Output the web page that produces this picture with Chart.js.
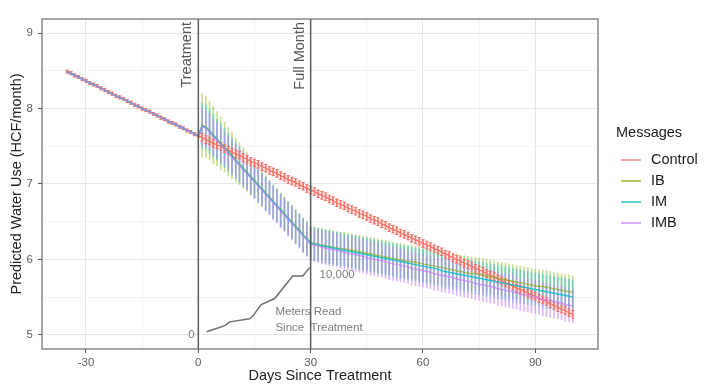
<!DOCTYPE html>
<html><head><meta charset="utf-8">
<script src="https://cdn.jsdelivr.net/npm/chart.js@4.4.1/dist/chart.umd.min.js"></script>
<style>html,body{margin:0;padding:0;background:#fff}</style>
</head><body>
<canvas id="c" width="708" height="386"></canvas>
<script>
// ---------- data ----------
const days = [-35,-34,-33,-32,-31,-30,-29,-28,-27,-26,-25,-24,-23,-22,-21,-20,-19,-18,-17,-16,-15,-14,-13,-12,-11,-10,-9,-8,-7,-6,-5,-4,-3,-2,-1,0,
1,2,3,4,5,6,7,8,9,10,11,12,13,14,15,16,17,18,19,20,21,22,23,24,25,26,27,28,29,30,
31,32,33,34,35,36,37,38,39,40,41,42,43,44,45,46,47,48,49,50,51,52,53,54,55,56,57,58,59,60,
61,62,63,64,65,66,67,68,69,70,71,72,73,74,75,76,77,78,79,80,81,82,83,84,85,86,87,88,89,90,
91,92,93,94,95,96,97,98,99,100];

// days -35..0 (all groups share the pre-treatment prediction)
const sharedPre = [8.49,8.47,8.44,8.42,8.39,8.37,8.34,8.32,8.30,8.27,8.25,8.22,8.20,8.17,8.15,8.13,8.10,8.08,8.05,8.03,8.00,7.98,7.96,7.93,7.91,7.88,7.86,7.83,7.81,7.79,7.76,7.74,7.71,7.69,7.66,7.64];

// predicted values, days 1..100
const controlPost = [7.62,7.59,7.57,7.54,7.52,7.50,7.47,7.45,7.42,7.40,7.38,7.35,7.33,7.30,7.28,7.26,7.23,7.21,7.18,7.16,7.14,7.11,7.09,7.06,7.04,7.02,6.99,6.97,6.94,6.92,
6.90,6.87,6.85,6.83,6.80,6.78,6.75,6.73,6.71,6.68,6.66,6.64,6.61,6.59,6.57,6.54,6.52,6.50,6.47,6.45,
6.42,6.40,6.38,6.35,6.33,6.31,6.28,6.26,6.24,6.21,6.19,6.17,6.14,6.12,6.10,6.07,6.05,6.02,6.00,5.98,
5.95,5.93,5.91,5.88,5.86,5.84,5.81,5.79,5.77,5.74,5.72,5.69,5.67,5.65,5.62,5.60,5.58,5.55,5.53,5.51,
5.48,5.46,5.44,5.41,5.39,5.36,5.34,5.32,5.29,5.27];
const ibPost = [7.78,7.76,7.71,7.65,7.60,7.54,7.49,7.43,7.38,7.32,7.27,7.21,7.16,7.10,7.05,6.99,6.94,6.88,6.83,6.77,6.72,6.66,6.61,6.55,6.50,6.44,6.39,6.33,6.28,6.22,
6.21,6.20,6.19,6.18,6.17,6.16,6.15,6.14,6.14,6.13,6.12,6.11,6.10,6.09,6.08,6.07,6.06,6.05,6.04,6.03,
6.02,6.01,6.00,5.99,5.98,5.97,5.97,5.96,5.95,5.94,5.93,5.92,5.91,5.90,5.89,5.88,5.87,5.86,5.85,5.84,
5.83,5.82,5.81,5.81,5.80,5.79,5.78,5.77,5.76,5.75,5.74,5.73,5.72,5.71,5.70,5.69,5.68,5.67,5.66,5.65,
5.64,5.64,5.63,5.62,5.61,5.60,5.59,5.58,5.57,5.56];
const imPost = [7.77,7.75,7.70,7.64,7.59,7.53,7.48,7.42,7.37,7.31,7.26,7.20,7.15,7.09,7.04,6.98,6.93,6.87,6.82,6.76,6.71,6.65,6.60,6.54,6.49,6.43,6.38,6.32,6.27,6.21,
6.20,6.19,6.18,6.17,6.16,6.15,6.14,6.13,6.12,6.11,6.10,6.09,6.08,6.07,6.06,6.05,6.04,6.03,6.02,6.01,
6.00,5.99,5.98,5.97,5.96,5.95,5.94,5.93,5.92,5.91,5.90,5.89,5.88,5.87,5.85,5.84,5.83,5.82,5.81,5.80,
5.79,5.78,5.77,5.76,5.75,5.74,5.73,5.72,5.71,5.70,5.69,5.68,5.67,5.66,5.65,5.64,5.63,5.62,5.61,5.60,
5.59,5.58,5.57,5.56,5.55,5.54,5.53,5.52,5.51,5.50];
const imbPost = [7.76,7.74,7.69,7.63,7.58,7.52,7.47,7.41,7.36,7.30,7.25,7.19,7.14,7.08,7.03,6.97,6.92,6.86,6.81,6.75,6.70,6.64,6.59,6.53,6.48,6.42,6.37,6.31,6.26,6.20,
6.19,6.18,6.16,6.15,6.14,6.13,6.12,6.11,6.09,6.08,6.07,6.06,6.05,6.04,6.02,6.01,6.00,5.99,5.98,5.97,
5.95,5.94,5.93,5.92,5.91,5.90,5.88,5.87,5.86,5.85,5.84,5.83,5.81,5.80,5.79,5.78,5.77,5.76,5.74,5.73,
5.72,5.71,5.70,5.68,5.67,5.66,5.65,5.64,5.63,5.61,5.60,5.59,5.58,5.57,5.56,5.54,5.53,5.52,5.51,5.50,
5.49,5.47,5.46,5.45,5.44,5.43,5.42,5.40,5.39,5.38];

// error-bar half widths, days 1..100
const controlErrPost = [0.05,0.05,0.05,0.05,0.05,0.05,0.05,0.05,0.05,0.05,0.05,0.05,0.05,0.05,0.05,0.05,0.05,0.05,0.05,0.05,0.05,0.05,0.05,0.05,0.05,0.05,0.05,0.05,0.05,0.05,
0.05,0.05,0.05,0.05,0.05,0.05,0.05,0.05,0.05,0.05,0.05,0.05,0.05,0.05,0.05,0.05,0.05,0.05,0.05,0.05,
0.05,0.05,0.05,0.05,0.05,0.05,0.05,0.05,0.05,0.05,0.05,0.05,0.05,0.05,0.05,0.05,0.05,0.05,0.05,0.05,
0.05,0.05,0.05,0.05,0.05,0.05,0.05,0.05,0.05,0.05,0.05,0.05,0.05,0.05,0.05,0.05,0.05,0.05,0.05,0.05,
0.05,0.05,0.05,0.05,0.05,0.05,0.05,0.05,0.05,0.05];
const ibErrPost = [0.42,0.41,0.39,0.38,0.36,0.35,0.33,0.32,0.31,0.29,0.28,0.27,0.26,0.25,0.24,0.23,0.23,0.23,0.22,0.22,0.22,0.22,0.22,0.22,0.22,0.22,0.22,0.22,0.22,0.22,
0.22,0.22,0.22,0.22,0.22,0.22,0.22,0.22,0.22,0.22,0.22,0.22,0.22,0.22,0.22,0.22,0.22,0.22,0.22,0.22,
0.22,0.22,0.22,0.22,0.22,0.22,0.22,0.22,0.22,0.22,0.22,0.22,0.22,0.22,0.22,0.22,0.22,0.22,0.22,0.22,
0.22,0.22,0.22,0.22,0.22,0.22,0.22,0.22,0.22,0.22,0.22,0.22,0.22,0.22,0.22,0.22,0.22,0.22,0.22,0.22,
0.22,0.22,0.22,0.22,0.22,0.22,0.22,0.22,0.22,0.22];
const imErrPost = [0.30,0.29,0.29,0.28,0.27,0.27,0.26,0.25,0.25,0.24,0.24,0.23,0.22,0.22,0.22,0.22,0.22,0.22,0.22,0.22,0.22,0.22,0.22,0.22,0.22,0.22,0.22,0.22,0.22,0.22,
0.22,0.22,0.22,0.22,0.22,0.22,0.22,0.22,0.22,0.22,0.22,0.22,0.22,0.22,0.22,0.22,0.22,0.22,0.22,0.22,
0.22,0.22,0.22,0.22,0.22,0.22,0.22,0.22,0.22,0.22,0.22,0.22,0.22,0.22,0.22,0.22,0.22,0.22,0.22,0.22,
0.22,0.22,0.22,0.22,0.22,0.22,0.22,0.22,0.22,0.22,0.22,0.22,0.22,0.22,0.22,0.22,0.22,0.22,0.22,0.22,
0.22,0.22,0.22,0.22,0.22,0.22,0.22,0.22,0.22,0.22];
const imbErrPost = [0.25,0.25,0.24,0.24,0.23,0.23,0.22,0.22,0.22,0.22,0.22,0.22,0.22,0.22,0.22,0.22,0.22,0.22,0.22,0.22,0.22,0.22,0.22,0.22,0.22,0.22,0.22,0.22,0.22,0.22,
0.22,0.22,0.22,0.22,0.22,0.22,0.22,0.22,0.22,0.22,0.22,0.22,0.22,0.22,0.22,0.22,0.22,0.22,0.22,0.22,
0.22,0.22,0.22,0.22,0.22,0.22,0.22,0.22,0.22,0.22,0.22,0.22,0.22,0.22,0.22,0.22,0.22,0.22,0.22,0.22,
0.22,0.22,0.22,0.22,0.22,0.22,0.22,0.22,0.22,0.22,0.22,0.22,0.22,0.22,0.22,0.22,0.22,0.22,0.22,0.22,
0.22,0.22,0.22,0.22,0.22,0.22,0.22,0.22,0.22,0.22];
// error-bar half widths, days -35..0 (one per group)
const errHalfPre = [0.02, 0.015, 0.015, 0.015];

const seriesNames = ['Control','IB','IM','IMB'];
const seriesPost = [controlPost, ibPost, imPost, imbPost];
const seriesErrPost = [controlErrPost, ibErrPost, imErrPost, imbErrPost];

// "Meters read since treatment" inset curve (plotted in data coordinates)
const meterDays  = [2.2,7.1,8.4,13.7,14.6,16.8,20.4,25.2,27.9,29.7];
const meterLevel = [5.04,5.12,5.17,5.21,5.25,5.40,5.48,5.78,5.78,5.89];
const meterEndLabels = ['0','10,000'];

const eventDays = [0, 30];
const eventLabels = ['Treatment','Full Month'];

const xMajor = [-30,0,30,60,90];
const xMinor = [-15,15,45,75];
const xTickLabels = ['-30','0','30','60','90'];
const yMajor = [5,6,7,8,9];
const yMinor = [5.5,6.5,7.5,8.5];
const yTickLabels = ['5','6','7','8','9'];

// ---------- styling ----------
const colors = ['#F8766D','#7CAE00','#00BFC4','#C77CFF'];
const X_MIN = -41.75, X_MAX = 106.75, Y_MIN = 4.81, Y_MAX = 9.19;
const FONT = '"Liberation Sans", Arial, Helvetica, sans-serif';
Chart.defaults.font.family = FONT;

function rgba(hex, a){
  const n = parseInt(hex.slice(1),16);
  return `rgba(${(n>>16)&255},${(n>>8)&255},${n&255},${a})`;
}
const nPre = sharedPre.length;
const seriesVals = seriesPost.map(p => sharedPre.concat(p));
const errAt = (s, i) => i < nPre ? errHalfPre[s] : seriesErrPost[s][i - nPre];

const datasets = [];
const barAlpha = [1, 0.42, 0.45, 0.55];
const lineAlpha = [1, 0.6, 0.8, 0.68];
// error bars (floating 1px bars)
[1,2,3,0].forEach((s, k) => {
  datasets.push({
    type:'bar', label:'err '+seriesNames[s],
    data: days.map((d,i) => {
      const e = errAt(s, i), v = seriesVals[s][i];
      return {x:d, y:[v-e, v+e]};
    }),
    backgroundColor: rgba(colors[s], barAlpha[s]),
    borderWidth:0, barThickness:1, grouped:false,
    order: 20 - k
  });
});
// control error bar caps
datasets.push({
  type:'line', label:'caps', showLine:false,
  data: days.flatMap((d,i) => {
    const e = errAt(0, i), v = seriesVals[0][i];
    return [{x:d,y:v-e},{x:d,y:v+e}];
  }),
  pointStyle:'line', pointRadius:1.8, pointBorderWidth:1,
  pointBorderColor: colors[0], pointBackgroundColor: colors[0],
  order: 15
});
// prediction lines
[0,1,2,3].forEach((s,k) => {
  datasets.push({
    type:'line', label: seriesNames[s],
    data: days.map((d,i) => ({x:d, y:seriesVals[s][i]})),
    borderColor: rgba(colors[s], lineAlpha[s]), borderWidth:1.5,
    pointRadius:0, tension:0, fill:false,
    order: 14 - k
  });
});
// event reference lines
eventDays.forEach((d,k) => {
  datasets.push({
    type:'line', label: eventLabels[k],
    data:[{x:d,y:Y_MIN},{x:d,y:Y_MAX}],
    borderColor:'#5a5a5a', borderWidth:1.5, pointRadius:0, order: 5
  });
});
// meters read inset
datasets.push({
  type:'line', label:'Meters Read',
  data: meterDays.map((d,i) => ({x:d, y:meterLevel[i]})),
  borderColor:'#6e6e6e', borderWidth:1.5, pointRadius:0, tension:0, order: 4
});

const annot = {
  id:'annot',
  beforeDatasetsDraw(chart){
    const {ctx, scales:{x,y}} = chart;
    ctx.save();
    ctx.font = '11.5px ' + FONT;
    ctx.fillStyle = '#7c7c7c';
    ctx.textBaseline = 'middle';
    const n = meterDays.length - 1;
    ctx.textAlign = 'right';
    ctx.fillText(meterEndLabels[0], x.getPixelForValue(meterDays[0]) - 12, y.getPixelForValue(meterLevel[0]) + 3);
    ctx.textAlign = 'left';
    ctx.fillText(meterEndLabels[1], x.getPixelForValue(meterDays[n]) + 10, y.getPixelForValue(meterLevel[n]) + 7);
    ctx.fillText('Meters Read', x.getPixelForValue(20.6), y.getPixelForValue(5.30));
    ctx.fillText('Since  Treatment', x.getPixelForValue(20.6), y.getPixelForValue(5.09));
    ctx.restore();
  },
  afterDatasetsDraw(chart){
    const {ctx, chartArea:a, scales:{x}} = chart;
    ctx.save();
    // panel border
    ctx.strokeStyle = '#6a6a6a'; ctx.lineWidth = 1.2;
    ctx.strokeRect(a.left, a.top, a.right - a.left, a.bottom - a.top);
    // event labels
    ctx.font = '14.5px ' + FONT;
    ctx.fillStyle = '#555';
    ctx.textAlign = 'right'; ctx.textBaseline = 'middle';
    eventDays.forEach((d,k) => {
      ctx.save();
      ctx.translate(x.getPixelForValue(d) - 11, a.top + 3);
      ctx.rotate(-Math.PI/2);
      ctx.fillText(eventLabels[k], 0, 0);
      ctx.restore();
    });
    // legend
    ctx.textAlign = 'left';
    ctx.fillStyle = '#1a1a1a';
    ctx.font = '14.5px ' + FONT;
    ctx.fillText('Messages', 616, 133);
    seriesNames.forEach((nm,k) => {
      const yy = 160 + k*21;
      ctx.strokeStyle = rgba(colors[k], 0.85); ctx.lineWidth = 1.5;
      ctx.beginPath(); ctx.moveTo(621, yy); ctx.lineTo(641, yy); ctx.stroke();
      ctx.fillStyle = '#1a1a1a';
      ctx.fillText(nm, 651, yy);
    });
    ctx.restore();
  }
};

function gridColor(major){
  return c => (c.tick && major.includes(c.tick.value)) ? '#e6e6e6' : '#f1f1f1';
}

new Chart(document.getElementById('c'), {
  type:'line',
  data:{ datasets },
  options:{
    responsive:false, animation:false, devicePixelRatio:1,
    layout:{ padding:{ top:19, right:110, bottom:0, left:0 } },
    plugins:{ legend:{display:false}, tooltip:{enabled:false} },
    scales:{
      x:{
        type:'linear', min:X_MIN, max:X_MAX, offset:false,
        afterBuildTicks: s => { s.ticks = xMajor.concat(xMinor).sort((a,b)=>a-b).map(v=>({value:v})); },
        ticks:{ autoSkip:false, maxRotation:0, padding:3, color:'#5c5c5c', font:{size:11.5},
          callback: v => { const i = xMajor.indexOf(v); return i >= 0 ? xTickLabels[i] : ''; } },
        grid:{ offset:false, color: gridColor(xMajor), lineWidth: c => (c.tick && xMajor.includes(c.tick.value)) ? 1 : 0.8,
          tickColor: c => (c.tick && xMajor.includes(c.tick.value)) ? '#555' : 'rgba(0,0,0,0)', tickLength:4, tickWidth:1 },
        border:{ display:false },
        title:{ display:true, text:'Days Since Treatment', color:'#222', font:{size:14.5}, padding:{top:0, bottom:1} },
        afterFit: s => { s.height = 37; }
      },
      y:{
        type:'linear', min:Y_MIN, max:Y_MAX,
        afterBuildTicks: s => { s.ticks = yMajor.concat(yMinor).sort((a,b)=>a-b).map(v=>({value:v})); },
        ticks:{ autoSkip:false, padding:5, color:'#5c5c5c', font:{size:11.5},
          callback: v => { const i = yMajor.indexOf(v); return i >= 0 ? yTickLabels[i] : ''; } },
        grid:{ color: gridColor(yMajor), lineWidth: c => (c.tick && yMajor.includes(c.tick.value)) ? 1 : 0.8,
          tickColor: c => (c.tick && yMajor.includes(c.tick.value)) ? '#555' : 'rgba(0,0,0,0)', tickLength:4, tickWidth:1 },
        border:{ display:false },
        title:{ display:true, text:'Predicted Water Use (HCF/month)', color:'#222', font:{size:14.5}, padding:{top:8, bottom:0} },
        afterFit: s => { s.width = 42; }
      }
    }
  },
  plugins:[annot]
});
</script>
</body></html>
